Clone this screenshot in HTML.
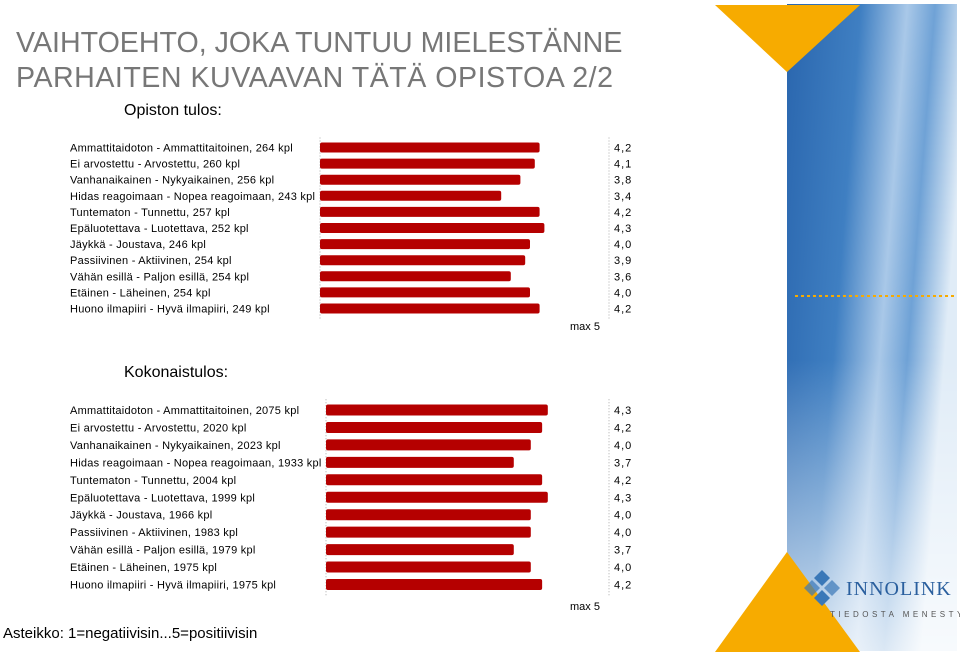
<!DOCTYPE html>
<html><head><meta charset="utf-8">
<style>
body{margin:0;width:960px;height:657px;background:#fff;overflow:hidden;font-family:"Liberation Sans",sans-serif;position:relative}
.t{position:absolute;left:16px;font-size:28.6px;color:#777;white-space:nowrap;letter-spacing:0px}
</style></head><body>
<div class="t" style="top:27px">VAIHTOEHTO, JOKA TUNTUU MIELESTÄNNE</div>
<div class="t" style="top:62px;letter-spacing:0.5px">PARHAITEN KUVAAVAN TÄTÄ OPISTOA 2/2</div>
<svg id="ch" width="960" height="657" style="position:absolute;left:0;top:0">
<defs>
<linearGradient id="sky" x1="0" y1="0" x2="1" y2="0.3">
<stop offset="0" stop-color="#2a66ae"/><stop offset="0.4" stop-color="#3f7fc2"/><stop offset="0.65" stop-color="#a9c8e8"/><stop offset="0.8" stop-color="#6fa2d6"/><stop offset="1" stop-color="#e0ecf7"/></linearGradient>
<linearGradient id="fade" x1="0" y1="0" x2="0" y2="1"><stop offset="0.55" stop-color="#fff" stop-opacity="0"/><stop offset="1" stop-color="#fff" stop-opacity="0.75"/></linearGradient>
</defs>
<g>
<rect x="787" y="4" width="170" height="647" fill="url(#sky)"/>
<rect x="787" y="4" width="170" height="647" fill="url(#fade)"/>
<polygon points="715,5 860,5 787,72" fill="#f7ab00"/>
<polygon points="787,552 860,652 715,652" fill="#f7ab00"/>
<line x1="795" y1="296" x2="955" y2="296" stroke="#f7ab00" stroke-width="2" stroke-dasharray="3,3"/>
<g>
<polygon points="822,570 830,578 822,586 814,578" fill="#3a78b8"/>
<polygon points="812,580 820,588 812,596 804,588" fill="#3a78b8" opacity="0.7"/>
<polygon points="832,580 840,588 832,596 824,588" fill="#3a78b8" opacity="0.7"/>
<polygon points="822,590 830,598 822,606 814,598" fill="#3a78b8"/>
<text x="846" y="595" font-family="Liberation Serif" font-size="20" fill="#2a5f9e" letter-spacing="1">INNOLINK</text>
<text x="830" y="617" font-size="8" fill="#555" letter-spacing="3.5">TIEDOSTA MENESTYS</text>
</g>
</g>
<text x="124" y="115" font-size="16" fill="#000">Opiston tulos:</text>
<text x="124" y="377" font-size="16" fill="#000">Kokonaistulos:</text>
<text x="3" y="638" font-size="15" fill="#000">Asteikko: 1=negatiivisin...5=positiivisin</text>
</svg>
<script>
const cats1=["Ammattitaidoton - Ammattitaitoinen, 264 kpl","Ei arvostettu - Arvostettu, 260 kpl","Vanhanaikainen - Nykyaikainen, 256 kpl","Hidas reagoimaan - Nopea reagoimaan, 243 kpl","Tuntematon - Tunnettu, 257 kpl","Epäluotettava - Luotettava, 252 kpl","Jäykkä - Joustava, 246 kpl","Passiivinen - Aktiivinen, 254 kpl","Vähän esillä - Paljon esillä, 254 kpl","Etäinen - Läheinen, 254 kpl","Huono ilmapiiri - Hyvä ilmapiiri, 249 kpl"];
const vals1=[4.2,4.1,3.8,3.4,4.2,4.3,4.0,3.9,3.6,4.0,4.2];
const cats2=["Ammattitaidoton - Ammattitaitoinen, 2075 kpl","Ei arvostettu - Arvostettu, 2020 kpl","Vanhanaikainen - Nykyaikainen, 2023 kpl","Hidas reagoimaan - Nopea reagoimaan, 1933 kpl","Tuntematon - Tunnettu, 2004 kpl","Epäluotettava - Luotettava, 1999 kpl","Jäykkä - Joustava, 1966 kpl","Passiivinen - Aktiivinen, 1983 kpl","Vähän esillä - Paljon esillä, 1979 kpl","Etäinen - Läheinen, 1975 kpl","Huono ilmapiiri - Hyvä ilmapiiri, 1975 kpl"];
const vals2=[4.3,4.2,4.0,3.7,4.2,4.3,4.0,4.0,3.7,4.0,4.2];
const maxLabel="max  5";
const NS="http://www.w3.org/2000/svg";
const svg=document.getElementById('ch');
function mk(t,a){const e=document.createElementNS(NS,t);for(const k in a)e.setAttribute(k,a[k]);svg.appendChild(e);return e;}
function chart(cats,vals,o){
  const x=v=>o.x0+v*o.k, y=i=>o.y0+i*o.dy;
  const top=y(0)-o.dy/2-2, bot=y(cats.length-1)+o.dy/2+2;
  let l=mk('line',{x1:o.base,y1:top,x2:o.base,y2:bot,stroke:'#aaa','stroke-dasharray':'1,2'});
  
  
  l=mk('line',{x1:609,y1:top,x2:609,y2:bot,stroke:'#aaa','stroke-dasharray':'1,2'});
  
  
  cats.forEach((c,i)=>{
    const t=mk('text',{x:o.lx,y:y(i)+4,'font-size':11,fill:'#000','letter-spacing':'0.25'});t.textContent=c;
    
    
    const w=Math.max(0,x(vals[i])-o.base);
    const r=mk('rect',{x:o.base,y:y(i)-o.bh/2,width:w,height:o.bh,rx:2,fill:'#b50000'});
    
    
    const v=mk('text',{x:614,y:y(i)+4,'font-size':11,fill:'#000','letter-spacing':'1'});v.textContent=vals[i].toFixed(1).replace('.',',');
    
    
  });
  const m=mk('text',{x:570,y:o.my,'font-size':11,fill:'#000','xml:space':'preserve'});m.textContent=maxLabel;
  
  
}
chart(cats1,vals1,{x0:338,k:48,base:320,y0:147.5,dy:16.1,bh:10,lx:70,my:330});
chart(cats2,vals2,{x0:304,k:56.7,base:326,y0:410,dy:17.45,bh:11,lx:70,my:610});
</script>
</body></html>
